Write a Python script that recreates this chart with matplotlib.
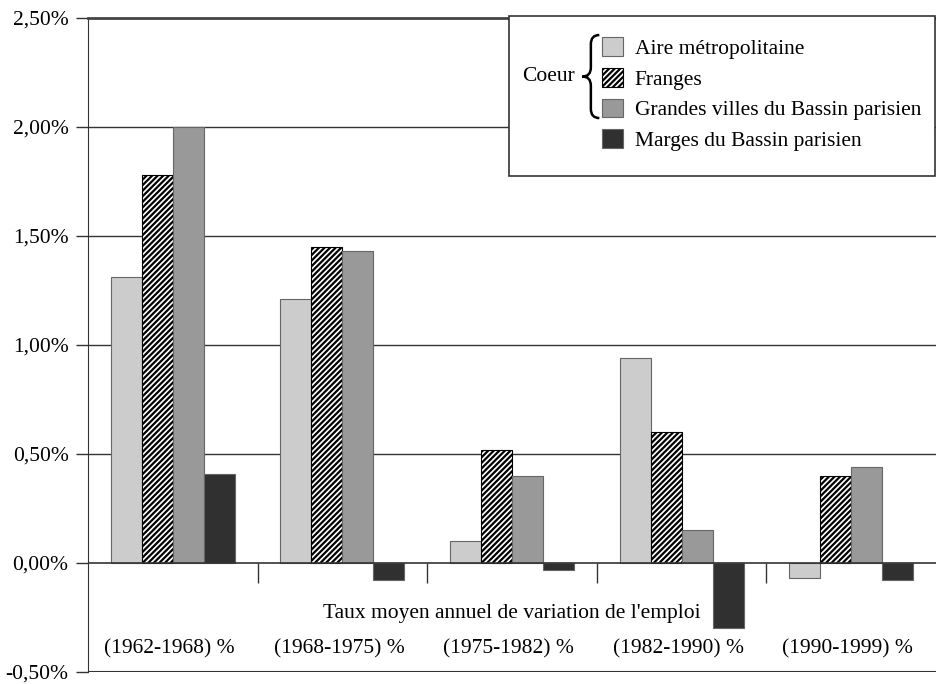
import matplotlib
matplotlib.use("Agg")
import matplotlib.pyplot as plt
import numpy as np
from matplotlib.patches import Rectangle, PathPatch
from matplotlib.path import Path
from matplotlib.ticker import FuncFormatter

# data (annual employment change, %)
periods = ["(1962-1968) %", "(1968-1975) %", "(1975-1982) %", "(1982-1990) %", "(1990-1999) %"]
series = ["Aire métropolitaine", "Franges", "Grandes villes du Bassin parisien", "Marges du Bassin parisien"]
aire = [1.31, 1.21, 0.10, 0.94, -0.07]
franges = [1.78, 1.45, 0.52, 0.60, 0.40]
grandes_villes = [2.00, 1.43, 0.40, 0.15, 0.44]
marges = [0.41, -0.08, -0.03, -0.30, -0.08]
xlabel = "Taux moyen annuel de variation de l'emploi"

values = [aire, franges, grandes_villes, marges]
colors = ["#cccccc", "white", "#999999", "#303030"]
hatches = [None, "//////", None, None]
FS = 15.5

plt.rcParams["font.family"] = ["Liberation Serif", "DejaVu Serif"]
plt.rcParams["hatch.linewidth"] = 1.6

fig = plt.figure(figsize=(9.36, 6.84), dpi=100)
ax = fig.add_axes([88 / 936, 12 / 684, 1 - 88 / 936, 654 / 684])

x = np.arange(len(periods))
width = 0.183
for i, (vals, c, h) in enumerate(zip(values, colors, hatches)):
    ax.bar(x + (i - 1.5) * width, vals, width, color=c, hatch=h,
           edgecolor="#666666" if h is None else "black", linewidth=0.8,
           label=series[i], zorder=3)

ax.set_xlim(-0.5, len(periods) - 0.5)
ax.set_ylim(-0.5, 2.5)
ax.set_yticks(np.arange(-0.5, 2.51, 0.5))
ax.yaxis.set_major_formatter(FuncFormatter(lambda v, p: f"{v:.2f}%".replace(".", ",")))
ax.tick_params(axis="y", length=9, width=1, color="#333333", labelsize=FS, pad=5)

# horizontal grid lines
for v in np.arange(0.5, 2.01, 0.5):
    ax.axhline(v, color="#333333", lw=1, zorder=1)
ax.axhline(0, color="#333333", lw=1.2, zorder=4)
ax.axhline(-0.5, color="#333333", lw=1.5, zorder=4)

# category axis at zero, separators between groups
ax.set_xticks([])
ax.vlines(x[:-1] + 0.5, -0.092, 0, color="#333333", lw=1, zorder=4)

for i, p in enumerate(periods):
    ax.text(x[i] - 0.02, -0.395, p, ha="center", va="center", fontsize=FS)
ax.text(np.mean(x), -0.232, xlabel, ha="center", va="center", fontsize=FS)

for s in ["right", "bottom"]:
    ax.spines[s].set_visible(False)
ax.spines["left"].set_color("#333333")
ax.spines["top"].set_color("#444444")
ax.spines["top"].set_linewidth(2)

# legend box
ax.add_patch(Rectangle((0.496, 0.758), 0.503, 0.245, transform=ax.transAxes,
                       facecolor="white", edgecolor="#333333", lw=1.2, zorder=5, clip_on=False))
leg = ax.legend(loc="upper left", bbox_to_anchor=(0.594, 0.987), frameon=False,
                fontsize=FS, handlelength=0.95, handleheight=0.95, handletextpad=0.55,
                labelspacing=0.42, borderpad=0)
leg.set_zorder(6)

ax.text(0.543, 0.911, "Coeur", transform=ax.transAxes, ha="center", va="center",
        fontsize=FS, zorder=6)

# curly brace grouping the first three entries
bx, top, bot = 0.593, 0.974, 0.847
mid = (top + bot) / 2
dx = 0.010
r = 0.014
verts = [(bx + dx, top),
         (bx, top), (bx, top - r),
         (bx, mid + r),
         (bx, mid), (bx - dx, mid),
         (bx, mid), (bx, mid - r),
         (bx, bot + r),
         (bx, bot), (bx + dx, bot)]
codes = [Path.MOVETO,
         Path.CURVE3, Path.CURVE3,
         Path.LINETO,
         Path.CURVE3, Path.CURVE3,
         Path.CURVE3, Path.CURVE3,
         Path.LINETO,
         Path.CURVE3, Path.CURVE3]
ax.add_patch(PathPatch(Path(verts, codes), transform=ax.transAxes, fill=False,
                       lw=1.8, edgecolor="black", zorder=6, clip_on=False))

fig.savefig("out.png", dpi=100)
